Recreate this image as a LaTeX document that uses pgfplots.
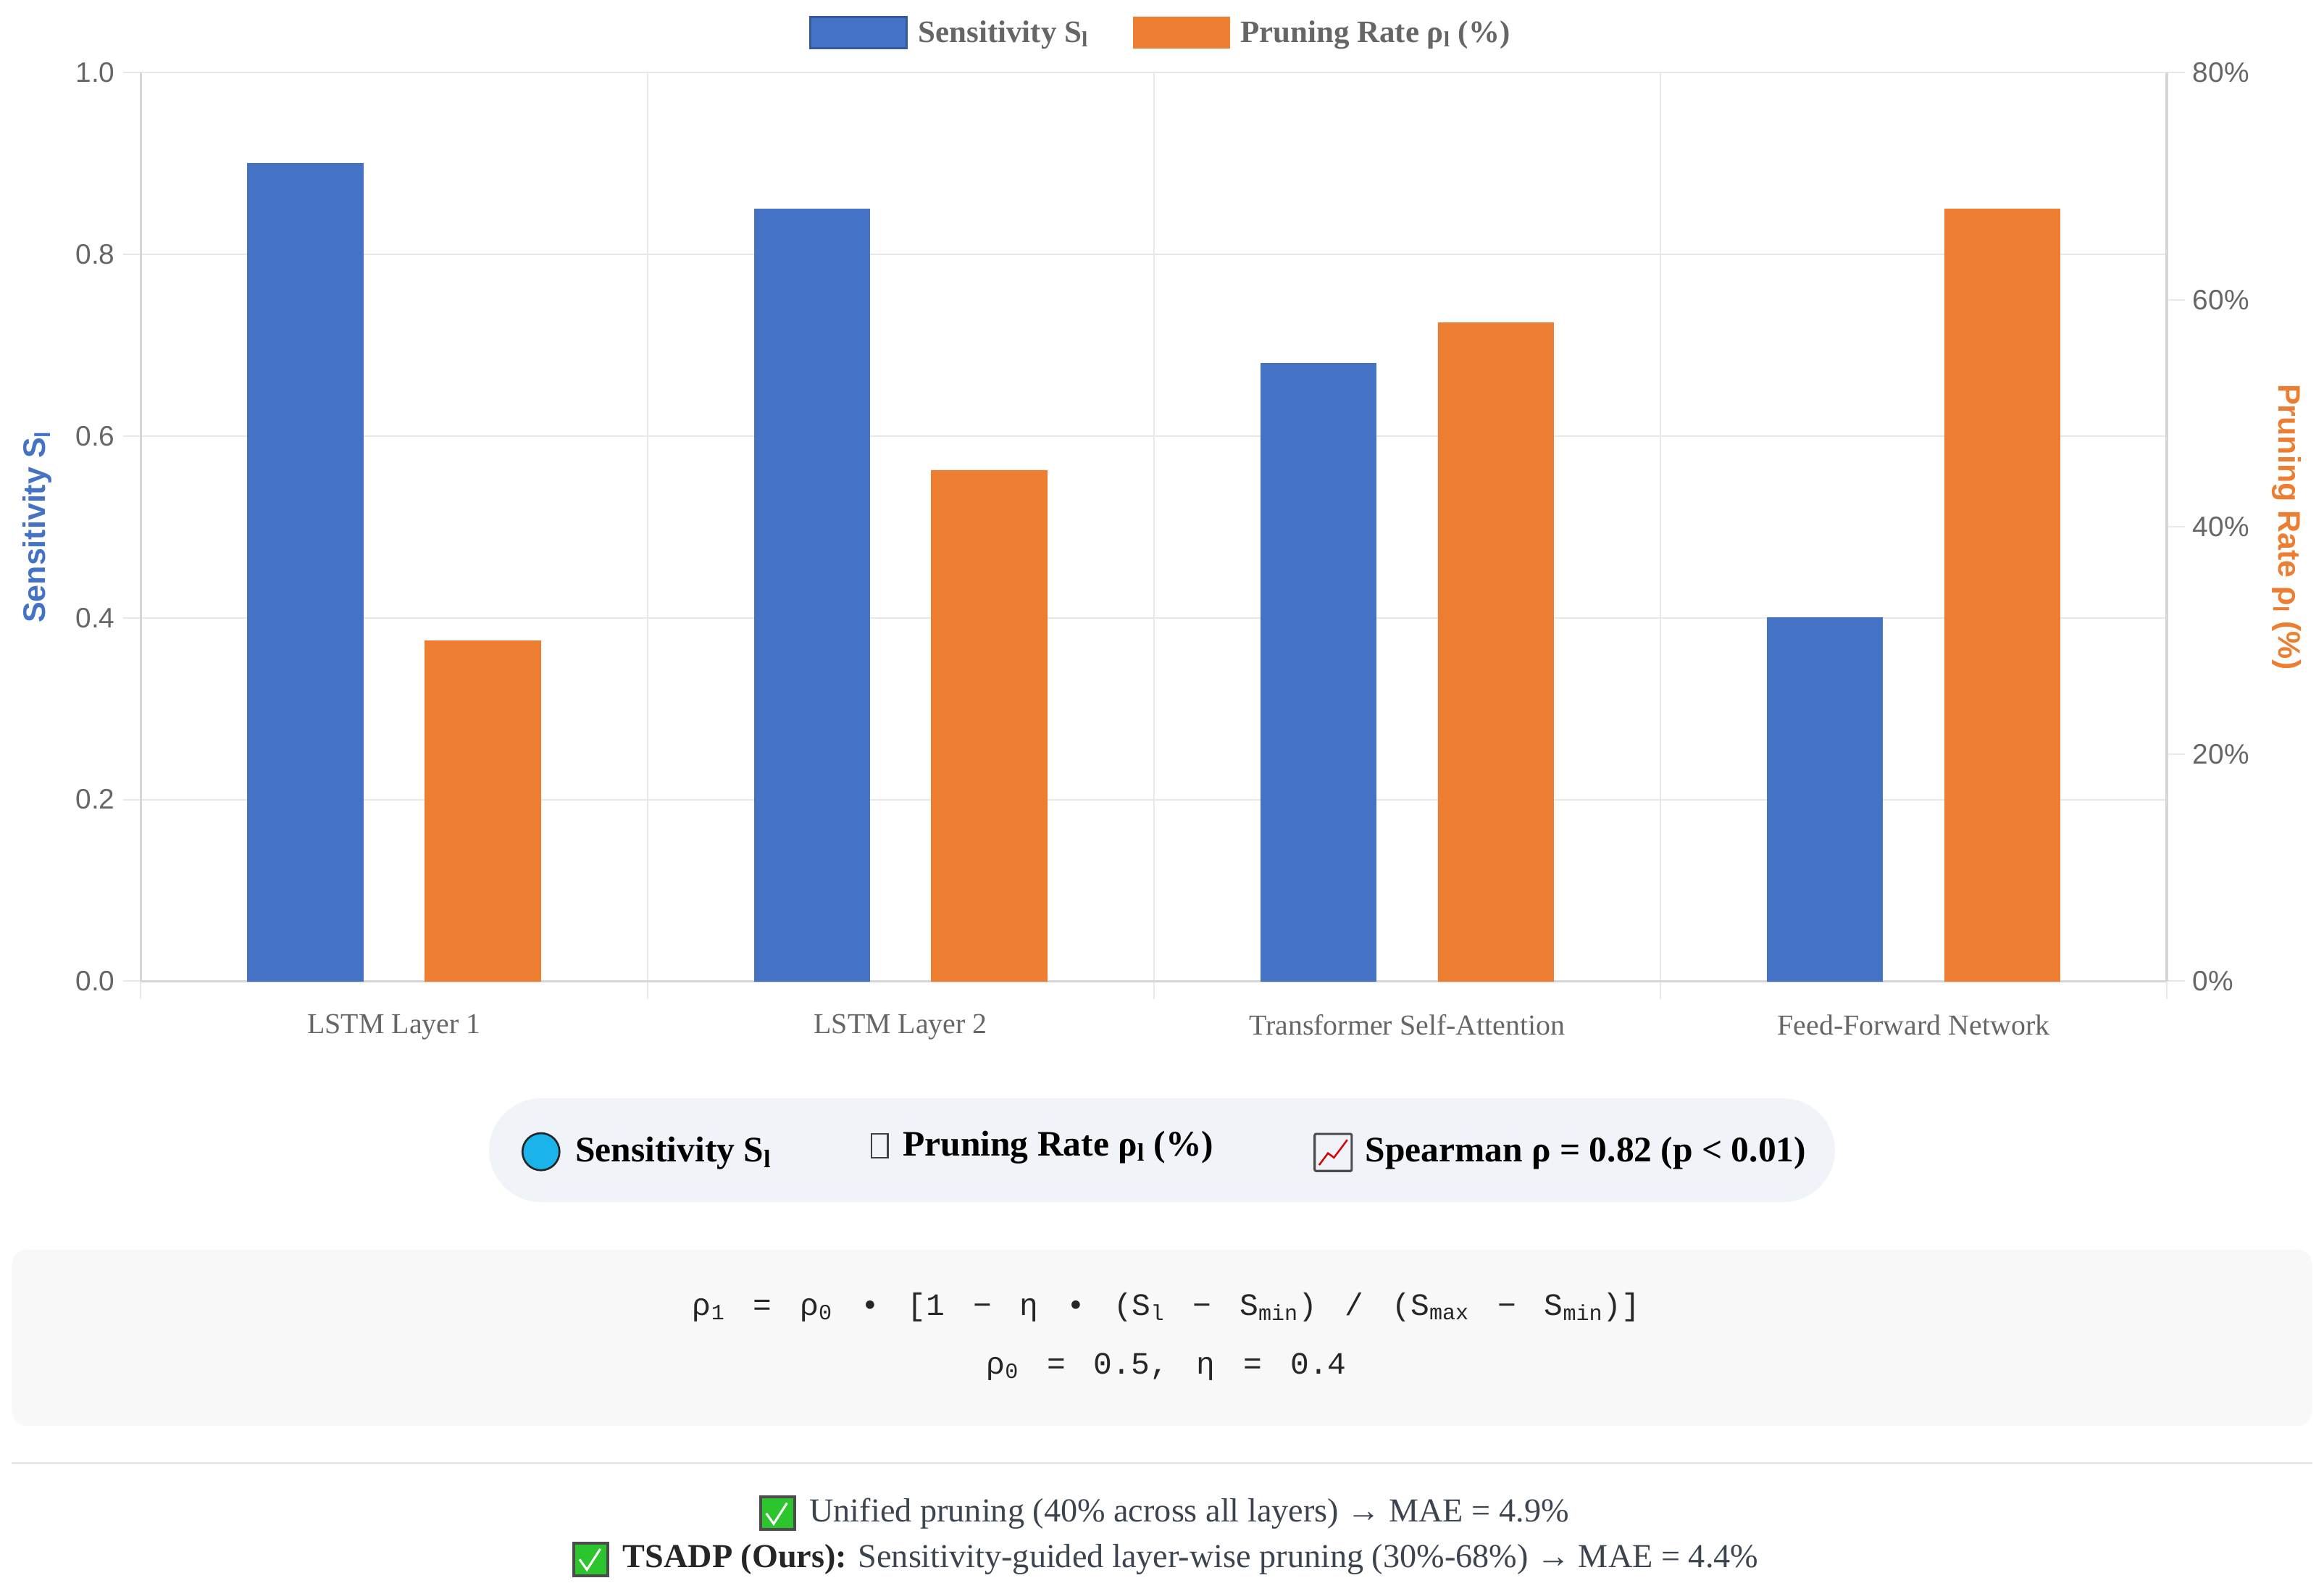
\documentclass[border=0pt]{standalone}
\usepackage{pgfplots}
\pgfplotsset{compat=1.18}
\usepackage{fontspec}
\setmainfont{Liberation Serif}
\newfontfamily\sans{Liberation Sans}
\newfontfamily\mono{Liberation Mono}
\definecolor{cblue}{HTML}{4472C4}
\definecolor{corange}{HTML}{ED7D31}
\definecolor{gridc}{HTML}{E8E8E8}
\definecolor{axc}{HTML}{D6D6D6}
\definecolor{tickc}{HTML}{666666}
\definecolor{boxc}{HTML}{F0F3F8}
\definecolor{fboxc}{HTML}{F8F8F8}
\definecolor{txtc}{HTML}{3C4450}
\definecolor{cyanc}{HTML}{1BB4EA}
\definecolor{greenc}{HTML}{2DC52D}
\newcommand\fs[1]{\fontsize{#1}{#1}\selectfont}
\newcommand\gap{\hspace{19pt}}
\pgfplotstableread{
x s
0 0.90
1 0.85
2 0.68
3 0.40
}\sens
\pgfplotstableread{
x r
0 30
1 45
2 58
3 68
}\prune
\begin{document}
\begin{tikzpicture}[x=1pt,y=1pt]
\path[use as bounding box] (0,0) rectangle (1568,1073);
\begin{axis}[
  at={(95pt,411pt)}, anchor=south west, scale only axis,
  width=1367pt, height=613pt,
  xmin=-0.5, xmax=3.5, ymin=0, ymax=1,
  axis lines*=left,
  axis line style={draw=axc, line width=1.8pt},
  xtick={-0.5,0.5,1.5,2.5,3.5}, xticklabels={},
  extra x ticks={0,1,2,3},
  extra x tick labels={LSTM Layer 1,LSTM Layer 2,Transformer Self-Attention,Feed-Forward Network},
  extra x tick style={grid=none, major tick length=0pt, tick label style={yshift=-19pt}},
  xticklabel style={font=\fs{19.5}, text=tickc},
  ytick={0,0.2,0.4,0.6,0.8,1.0},
  yticklabel style={font=\sans\fs{19}, text=tickc, /pgf/number format/fixed, /pgf/number format/fixed zerofill, /pgf/number format/precision=1, xshift=-2pt},
  /pgf/number format/assume math mode=true,
  xmajorgrids, ymajorgrids,
  grid style={draw=gridc, line width=1pt},
  tick align=outside, major tick length=12pt,
  tick style={draw=gridc, line width=1pt},
  ylabel={Sensitivity S\textsubscript{l}},
  ylabel style={font=\sans\bfseries\fs{21}, text=cblue, at={(axis description cs:-0.0512,0.5)}, anchor=center},
]
\addplot[ybar, bar width=0.228, bar shift=-0.175, fill=cblue, draw=cblue] table[x=x,y=s]{\sens};
\end{axis}
\begin{axis}[
  at={(95pt,411pt)}, anchor=south west, scale only axis,
  width=1367pt, height=613pt,
  xmin=-0.5, xmax=3.5, ymin=0, ymax=80,
  axis x line=none, axis y line*=right,
  axis line style={draw=axc, line width=1.8pt},
  ytick={0,20,40,60,80},
  yticklabel={\pgfmathprintnumber{\tick}\%},
  yticklabel style={font=\sans\fs{19}, text=tickc, xshift=2pt},
  /pgf/number format/assume math mode=true,
  tick align=outside, major tick length=12pt,
  tick style={draw=gridc, line width=1pt},
  ylabel={Pruning Rate ρ\textsubscript{l} (\%)},
  ylabel style={font=\sans\bfseries\fs{21}, text=corange, at={(axis description cs:1.0593,0.5)}, anchor=center, rotate=180},
  legend columns=2,
  legend style={draw=none, fill=none, at={(0.5,1)}, anchor=center, yshift=27pt, xshift=5pt,
    font=\bfseries\fs{21}, text=tickc,
    /tikz/every odd column/.append style={column sep=5pt},
    /tikz/every even column/.append style={column sep=28pt}},
  legend image code/.code={\draw[#1] (0pt,-10.5pt) rectangle (65pt,10.5pt);},
]
\addlegendimage{fill=cblue, draw=cblue!80!black, line width=1.5pt}
\addlegendentry{Sensitivity S\textsubscript{l}}
\addplot[ybar, bar width=0.228, bar shift=0.175, fill=corange, draw=corange] table[x=x,y=r]{\prune};
\addlegendentry{Pruning Rate ρ\textsubscript{l} (\%)}
\end{axis}
% second legend box
\fill[boxc, rounded corners=35pt] (330,262) rectangle (1238,332);
\draw[fill=cyanc, draw=black!85, line width=1.3pt] (365,296) circle (12.5);
\node[anchor=west, inner sep=0pt] at (388,295) {\fs{24.2}\bfseries Sensitivity S\textsubscript{l}};
\draw[black!75, line width=1pt] (588,292) rectangle (599,308);
\node[anchor=west, inner sep=0pt] at (609,299) {\fs{24.2}\bfseries Pruning Rate ρ\textsubscript{l} (\%)};
\draw[black!70, line width=1.5pt, rounded corners=1pt] (887,283) rectangle (912,308);
\draw[red!85!black, line width=1.2pt] (890,287)--(896,295)--(900,292)--(909,304);
\node[anchor=west, inner sep=0pt] at (921,295) {\fs{24.2}\bfseries Spearman ρ = 0.82 (p < 0.01)};
% formula box
\fill[fboxc, rounded corners=10pt] (8,111) rectangle (1560,230);
\node[inner sep=0pt, text=black!85] at (787,191) {\mono\fs{21}ρ\textsubscript{1}\gap=\gap ρ\textsubscript{0}\gap•\gap[1\gap−\gap η\gap•\gap(S\textsubscript{l}\gap−\gap S\textsubscript{min})\gap/\gap(S\textsubscript{max}\gap−\gap S\textsubscript{min})]};
\node[inner sep=0pt, text=black!85] at (787,151) {\mono\fs{21}ρ\textsubscript{0}\gap=\gap0.5,\gap η\gap=\gap0.4};
\draw[gridc, line width=1.5pt] (8,86) -- (1560,86);
% bottom lines
\fill[black!70] (512,40) rectangle (537,64);
\fill[greenc] (514,42) rectangle (535,62);
\draw[white, line width=1.5pt] (517,52)--(522,45)--(531,59);
\node[anchor=west, inner sep=0pt, text=txtc] at (546,52) {\fs{22.6}Unified pruning (40\% across all layers) → MAE = 4.9\%};
\fill[black!70] (386,9) rectangle (411,33);
\fill[greenc] (388,11) rectangle (409,31);
\draw[white, line width=1.5pt] (391,21)--(396,14)--(405,28);
\node[anchor=west, inner sep=0pt, text=txtc] at (420,21) {\fs{22.6}\textbf{\color{black!85}TSADP (Ours):} Sensitivity-guided layer-wise pruning (30\%-68\%) → MAE = 4.4\%};
\end{tikzpicture}
\end{document}
